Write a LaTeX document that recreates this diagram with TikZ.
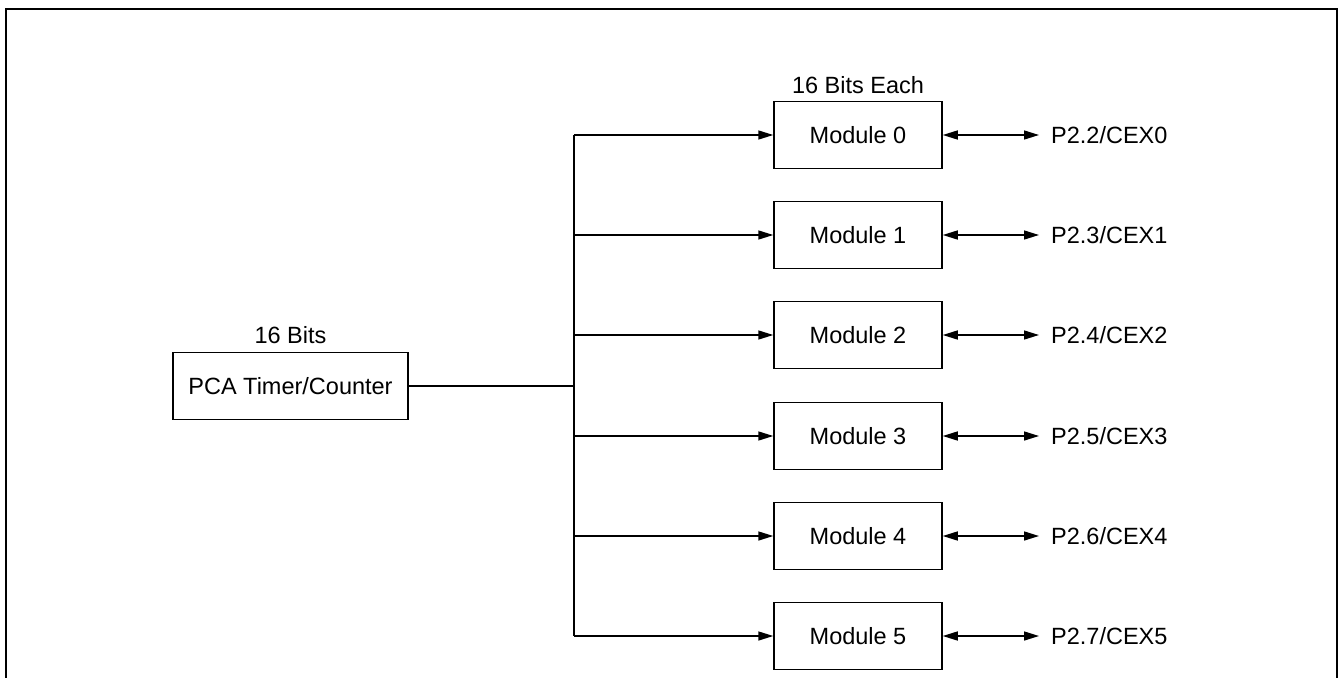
\documentclass[tikz,border=0pt]{standalone}
\usepackage{fontspec}
\setmainfont{Liberation Sans}
\usetikzlibrary{arrows.meta}
\begin{document}
\begin{tikzpicture}[x=1pt,y=-1pt,
  box/.style={draw,line width=1.5pt,minimum height=67pt,inner sep=0pt,font=\fontsize{23.5}{26}\selectfont},
  lbl/.style={font=\fontsize{23.5}{26}\selectfont,inner sep=0pt},
  conn/.style={line width=1.5pt},
  tip/.style={-{Triangle[length=15pt,width=9pt]}},
  both/.style={{Triangle[length=15pt,width=9pt]}-{Triangle[length=15pt,width=9pt]}}]
\useasboundingbox (0,0) rectangle (1343,677);
\draw[line width=2.5pt] (6,680) -- (6,9) -- (1337,9) -- (1337,680);
\node[box,minimum width=235pt] (pca) at (290.5,386) {PCA Timer/Counter};
\node[lbl,anchor=base] (pcal) at (290.5,343) {16 Bits};
\coordinate (bus) at (574,386);
\draw[conn] (pca.east) -- (bus);
\foreach \i/\y in {0/135,1/235,2/335,3/436,4/536,5/636}{
  \node[box,minimum width=168pt] (m\i) at (858,\y) {Module \i};
  \coordinate (b\i) at (574,\y);
  \coordinate (p\i) at (1039,\y);
  \pgfmathtruncatemacro{\pn}{\i+2}
  \node[lbl,anchor=west] (t\i) at (1051,\y) {P2.\pn/CEX\i};
  \draw[conn,tip] (b\i) -- (m\i.west);
  \draw[conn,both] (m\i.east) -- (p\i);
}
\draw[conn] (b0) -- (b5);
\node[lbl,anchor=base] (mlbl) at (858,93) {16 Bits Each};
\end{tikzpicture}
\end{document}
